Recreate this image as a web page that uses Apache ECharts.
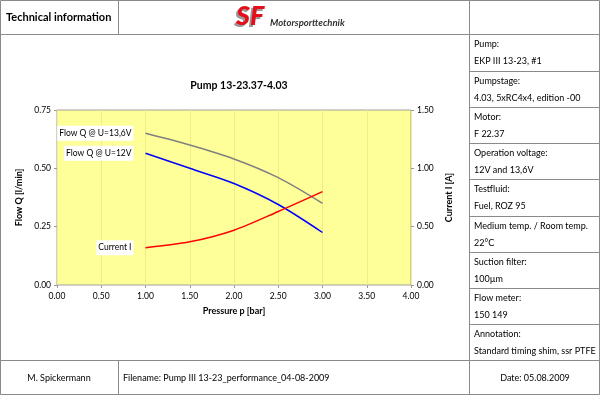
<!DOCTYPE html>
<html><head><meta charset="utf-8">
<script src="https://cdn.jsdelivr.net/npm/echarts@6/dist/echarts.min.js"></script>
<style>html,body{margin:0;padding:0;background:#fff}#c{width:600px;height:395px}</style>
</head><body><div id="c"></div>
<script>
const pressure = [1.0, 1.5, 2.0, 2.5, 3.0];
const flow136 = [0.65, 0.60, 0.54, 0.46, 0.35];
const flow12 = [0.565, 0.50, 0.435, 0.345, 0.225];
const current = [0.32, 0.37, 0.47, 0.63, 0.80];
const seriesNames = ['Flow Q @ U=13,6V', 'Flow Q @ U=12V', 'Current I'];
const xTicks = [0, 4, 0.5];
const infoLabels = ['Pump:', 'Pumpstage:', 'Motor:', 'Operation voltage:', 'Testfluid:', 'Medium temp. / Room temp.', 'Suction filter:', 'Flow meter:', 'Annotation:'];
const infoValues = ['EKP III 13-23, #1', '4.03, 5xRC4x4, edition -00', 'F 22.37', '12V and 13,6V', 'Fuel, ROZ 95', '22°C', '100µm', '150 149', 'Standard timing shim, ssr PTFE'];
const headerTitle = 'Technical information';
const footerAuthor = 'M. Spickermann';
const footerFile = 'Filename: Pump III 13-23_performance_04-08-2009';
const footerDate = 'Date: 05.08.2009';
const chartTitle = 'Pump 13-23.37-4.03';

const FONT = 'Lato';
const LC = '#8a8a8a';

function mk(ys, name) {
  return pressure.map((x, i) => {
    if (i === 0) return { value: [x, ys[i]], label: { show: true, position: 'left', distance: 12, formatter: name, backgroundColor: '#fff', padding: [3, 2, 3, 2], color: '#000', fontFamily: FONT, fontSize: 8.5 } };
    return { value: [x, ys[i]], label: { show: false } };
  });
}

const graphics = [];
function hline(x1, x2, y) { graphics.push({ type: 'line', shape: { x1, y1: y, x2, y2: y }, style: { stroke: LC, lineWidth: 1 }, silent: true }); }
function vline(x, y1, y2) { graphics.push({ type: 'line', shape: { x1: x, y1, x2: x, y2 }, style: { stroke: LC, lineWidth: 1 }, silent: true }); }
function txt(x, y, t, opts) { graphics.push({ type: 'text', x, y, silent: true, style: Object.assign({ text: t, fill: '#000', font: '9px ' + FONT, textVerticalAlign: 'middle', textAlign: 'left' }, opts || {}) }); }

// outer frame
graphics.push({ type: 'rect', shape: { x: 0.5, y: 0.5, width: 599, height: 394 }, style: { fill: 'none', stroke: LC, lineWidth: 1 }, silent: true });
hline(0, 600, 34.5);
hline(0, 600, 360.5);
vline(118.5, 0, 34.5);
vline(118.5, 360.5, 395);
vline(469.5, 0, 395);
const rowH = (360.5 - 34.5) / 9;
for (let i = 0; i < 9; i++) {
  const top = 34.5 + i * rowH;
  if (i > 0) hline(469.5, 600, Math.round(top) + 0.5);
  txt(474, top + 10, infoLabels[i]);
  txt(474, top + 27, infoValues[i]);
}
txt(6, 17.5, headerTitle, { font: 'bold 11px ' + FONT });
// logo
txt(234, 18, 'SF', { font: 'italic 900 27px ' + FONT, fill: '#9a9a9a' });
txt(236, 16, 'SF', { font: 'italic 900 27px ' + FONT, fill: '#e3101c' });
txt(270, 23, 'Motorsporttechnik', { font: 'italic bold 9.5px ' + FONT, fill: '#333' });
// footer
txt(59, 378, footerAuthor, { textAlign: 'center' });
txt(123, 378, footerFile);
txt(535, 378, footerDate, { textAlign: 'center' });

const chart = echarts.init(document.getElementById('c'), null, { renderer: 'canvas' });
const lineCommon = { type: 'line', smooth: 0.3, symbol: 'circle', symbolSize: 0.01, showSymbol: true, showAllSymbol: true, z: 3 };
chart.setOption({
  animation: false,
  textStyle: { fontFamily: FONT },
  title: { text: chartTitle, left: 234, top: 75, textAlign: 'center', textStyle: { fontSize: 10.5, fontWeight: 'bold', color: '#000', fontFamily: FONT } },
  grid: { left: 57, right: 189, top: 110, bottom: 110, show: true, backgroundColor: '#ffff99', borderColor: '#a0a0a0', borderWidth: 1 },
  xAxis: {
    type: 'value', min: xTicks[0], max: xTicks[1], interval: xTicks[2],
    name: 'Pressure p [bar]', nameLocation: 'middle', nameGap: 22,
    nameTextStyle: { fontWeight: 'bold', fontSize: 9, color: '#000' },
    axisLine: { show: false },
    axisTick: { show: true, length: 3, lineStyle: { color: '#999' } },
    axisLabel: { color: '#000', fontSize: 8.5, margin: 7, formatter: v => v.toFixed(2) },
    splitLine: { show: true, lineStyle: { color: '#eeee88', width: 1 } }
  },
  yAxis: [
    {
      type: 'value', min: 0, max: 0.75, interval: 0.25,
      name: 'Flow Q [l/min]', nameLocation: 'middle', nameGap: 27, nameRotate: 90,
      nameTextStyle: { fontWeight: 'bold', fontSize: 9, color: '#000' },
      axisLine: { show: false }, axisTick: { show: true, length: 3, lineStyle: { color: '#999' } },
      axisLabel: { color: '#000', fontSize: 8.5, margin: 6, formatter: v => v.toFixed(2) },
      splitLine: { show: false }
    },
    {
      type: 'value', min: 0, max: 1.5, interval: 0.5, position: 'right',
      name: 'Current I [A]', nameLocation: 'middle', nameGap: 28, nameRotate: 90,
      nameTextStyle: { fontWeight: 'bold', fontSize: 9, color: '#000' },
      axisLine: { show: false }, axisTick: { show: true, length: 3, lineStyle: { color: '#999' } },
      axisLabel: { color: '#000', fontSize: 8.5, margin: 6, formatter: v => v.toFixed(2) },
      splitLine: { show: false }
    }
  ],
  series: [
    Object.assign({}, lineCommon, { name: seriesNames[0], data: mk(flow136, seriesNames[0]), yAxisIndex: 0, lineStyle: { color: '#808080', width: 1.5 }, itemStyle: { color: '#808080' } }),
    Object.assign({}, lineCommon, { name: seriesNames[1], data: mk(flow12, seriesNames[1]), yAxisIndex: 0, lineStyle: { color: '#0000ff', width: 1.5 }, itemStyle: { color: '#0000ff' } }),
    Object.assign({}, lineCommon, { name: seriesNames[2], data: mk(current, seriesNames[2]), yAxisIndex: 1, lineStyle: { color: '#ff0000', width: 1.5 }, itemStyle: { color: '#ff0000' } })
  ],
  graphic: graphics
});
</script></body></html>
